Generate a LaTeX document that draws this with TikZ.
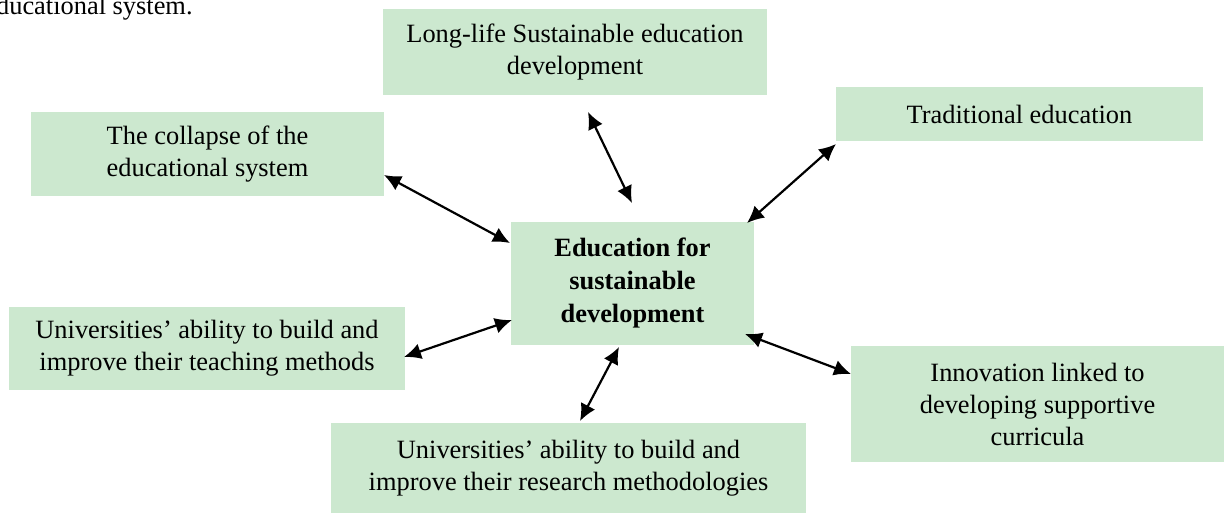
\documentclass[tikz,border=0pt]{standalone}
\usepackage{fontspec}
\setmainfont{Liberation Serif}
\usetikzlibrary{arrows.meta}
\definecolor{boxgreen}{RGB}{204,232,207}
\tikzset{
  box/.style={fill=boxgreen, draw=none, align=center, inner sep=0pt,
    font=\fontsize{13.2}{16}\selectfont},
  link/.style={{Latex[length=8.5pt,width=8pt]}-{Latex[length=8.5pt,width=8pt]}, line width=1.1pt, black},
}
\begin{document}
\begin{tikzpicture}[x=0.5pt,y=-0.5pt]
\useasboundingbox (0,0) rectangle (1224,514);
\clip (0,0) rectangle (1224,514);
\fill[white] (0,0) rectangle (1224,514);
\node[anchor=base east, font=\fontsize{13.2}{16}\selectfont, inner sep=0pt] (frag) at (193,14) {educational system.};
\node[box, minimum width=192pt, minimum height=43pt] (longlife) at (575,52) {Long-life Sustainable education\\development};
\node[box, minimum width=176.5pt, minimum height=42pt] (collapse) at (207.5,154) {The collapse of the\\educational system};
\node[box, minimum width=183.5pt, minimum height=27pt] (trad) at (1019.5,114) {Traditional education};
\node[box, minimum width=121.5pt, minimum height=61.5pt, font=\fontsize{13.2}{16.5}\selectfont\bfseries] (center) at (632.5,283) {Education for\\sustainable\\development};
\node[box, minimum width=198pt, minimum height=41.5pt] (teach) at (207,348.5) {Universities’ ability to build and\\improve their teaching methods};
\node[box, minimum width=237.5pt, minimum height=45pt] (research) at (568.5,468) {Universities’ ability to build and\\improve their research methodologies};
\node[box, minimum width=186.5pt, minimum height=58pt] (innov) at (1037.5,404) {Innovation linked to\\developing supportive\\curricula};
\coordinate (l1) at (588,112); \coordinate (c1) at (632,203);
\coordinate (l2) at (384,175); \coordinate (c2) at (510,243);
\coordinate (l3) at (836,144); \coordinate (c3) at (747,223);
\coordinate (l4) at (404,357); \coordinate (c4) at (512,320);
\coordinate (l5) at (580,421); \coordinate (c5) at (619,347);
\coordinate (l6) at (851,374); \coordinate (c6) at (745,334);
\draw[link] (l1) -- (c1);
\draw[link] (l2) -- (c2);
\draw[link] (l3) -- (c3);
\draw[link] (l4) -- (c4);
\draw[link] (l5) -- (c5);
\draw[link] (l6) -- (c6);
\end{tikzpicture}
\end{document}
